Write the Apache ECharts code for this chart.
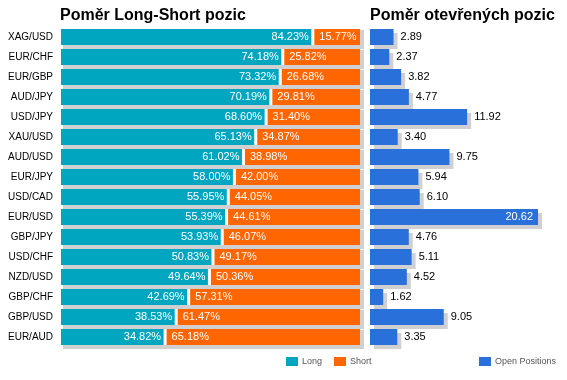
<!DOCTYPE html>
<html><head><meta charset="utf-8">
<script src="https://cdn.jsdelivr.net/npm/echarts@6/dist/echarts.min.js"></script>
<style>html,body{margin:0;padding:0;background:#fff}#c{width:567px;height:380px}</style>
</head><body><div id="c"></div>
<script>
const categories = ['XAG/USD','EUR/CHF','EUR/GBP','AUD/JPY','USD/JPY','XAU/USD','AUD/USD','EUR/JPY','USD/CAD','EUR/USD','GBP/JPY','USD/CHF','NZD/USD','GBP/CHF','GBP/USD','EUR/AUD'];
const longValues = [84.23,74.18,73.32,70.19,68.60,65.13,61.02,58.00,55.95,55.39,53.93,50.83,49.64,42.69,38.53,34.82];
const shortValues = [15.77,25.82,26.68,29.81,31.40,34.87,38.98,42.00,44.05,44.61,46.07,49.17,50.36,57.31,61.47,65.18];
const openPositions = [2.89,2.37,3.82,4.77,11.92,3.40,9.75,5.94,6.10,20.62,4.76,5.11,4.52,1.62,9.05,3.35];

const LONG_C = '#00A6C0', SHORT_C = '#FF6600', OPEN_C = '#2970DB', SHADOW_C = '#D0D0D0';
const FONT = '"Liberation Sans", Arial, sans-serif';
const BAR_H = 16;

function txt(text, x, y, align) {
  return {type:'text', z2: 10, style:{text, x, y, align, textAlign: align, verticalAlign:'middle', textVerticalAlign:'middle',
    fill:'#fff', font:'11px ' + FONT}};
}
function renderLong(params, api) {
  const idx = api.value(1), lv = api.value(0), sv = api.value(2);
  const p0 = api.coord([0, idx]), pL = api.coord([lv, idx]), pE = api.coord([lv + sv, idx]);
  const top = p0[1] - BAR_H / 2;
  return {type:'group', children:[
    {type:'rect', shape:{x:p0[0] + 2, y:top + BAR_H, width:pE[0] + 4 - p0[0] - 2, height:4}, style:{fill:SHADOW_C}},
    {type:'rect', shape:{x:p0[0], y:top, width:pL[0] - 1.5 - p0[0], height:BAR_H}, style:{fill:LONG_C}},
    txt(lv.toFixed(2) + '%', pL[0] - 4, p0[1], 'right')
  ]};
}
function renderShort(params, api) {
  const idx = api.value(1), sv = api.value(0), lv = api.value(2);
  const p0 = api.coord([0, idx]), pL = api.coord([lv, idx]), pE = api.coord([lv + sv, idx]);
  const top = p0[1] - BAR_H / 2;
  return {type:'group', children:[
    {type:'rect', shape:{x:pE[0], y:top + 1, width:4, height:BAR_H + 3}, style:{fill:SHADOW_C}},
    {type:'rect', shape:{x:pL[0] + 1.5, y:top, width:pE[0] - pL[0] - 1.5, height:BAR_H}, style:{fill:SHORT_C}},
    txt(sv.toFixed(2) + '%', pL[0] + 1.5 + 5, p0[1], 'left')
  ]};
}

const maxOpen = Math.max(...openPositions);
const openData = openPositions.map(v => v === maxOpen
  ? {value:v, label:{position:'insideRight', color:'#fff', distance:5}}
  : v);

const chart = echarts.init(document.getElementById('c'), null, {renderer:'canvas'});
chart.setOption({
  animation:false,
  title:[
    {text:'Poměr Long-Short pozic', left:60, top:8, padding:0, textStyle:{fontFamily:FONT, fontSize:16, fontWeight:'bold', color:'#000'}},
    {text:'Poměr otevřených pozic', left:370, top:8, padding:0, textStyle:{fontFamily:FONT, fontSize:16, fontWeight:'bold', color:'#000'}}
  ],
  legend:[
    {data:['Long','Short'], left:286, top:357, padding:0, icon:'rect', itemWidth:12, itemHeight:9, itemGap:12,
      textStyle:{fontFamily:FONT, fontSize:9, color:'#555', padding:[0,0,0,-1]}},
    {data:['Open Positions'], left:479, top:357, padding:0, icon:'rect', itemWidth:12, itemHeight:9,
      textStyle:{fontFamily:FONT, fontSize:9, color:'#555', padding:[0,0,0,-1]}}
  ],
  grid:[
    {left:61, top:27, width:299, height:320},
    {left:370, top:27, width:191.5, height:320}
  ],
  xAxis:[
    {gridIndex:0, type:'value', min:0, max:100, show:false},
    {gridIndex:1, type:'value', min:0, max:23.5, show:false}
  ],
  yAxis:[
    {gridIndex:0, type:'category', data:categories, inverse:true, axisLine:{show:false}, axisTick:{show:false},
      axisLabel:{margin:8, fontFamily:FONT, fontSize:10, color:'#000'}},
    {gridIndex:1, type:'category', data:categories, inverse:true, show:false}
  ],
  series:[
    {name:'Long', type:'custom', xAxisIndex:0, yAxisIndex:0, itemStyle:{color:LONG_C},
      data: categories.map((c,i)=>[longValues[i], i, shortValues[i]]), encode:{x:0, y:1}, renderItem:renderLong},
    {name:'Short', type:'custom', xAxisIndex:0, yAxisIndex:0, itemStyle:{color:SHORT_C},
      data: categories.map((c,i)=>[shortValues[i], i, longValues[i]]), encode:{x:0, y:1}, renderItem:renderShort},
    {name:'Open Positions', type:'bar', xAxisIndex:1, yAxisIndex:1, barWidth:BAR_H, data:openData,
      itemStyle:{color:OPEN_C, shadowColor:SHADOW_C, shadowBlur:0, shadowOffsetX:4, shadowOffsetY:4},
      label:{show:true, position:'right', distance:7, color:'#000', fontFamily:FONT, fontSize:11,
        formatter:p=>Number(p.value).toFixed(2)}}
  ]
});
</script></body></html>
